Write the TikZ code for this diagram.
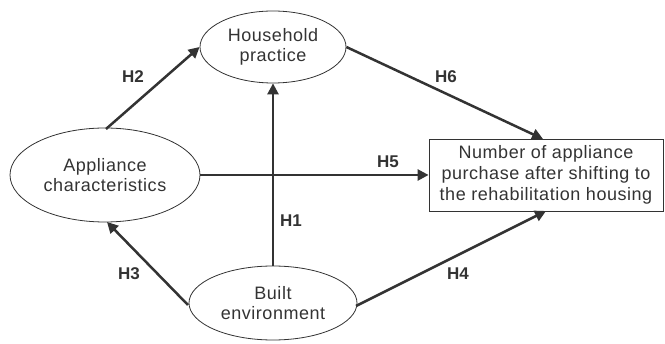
\documentclass[tikz,border=0pt]{standalone}
\usepackage{fontspec}
\setmainfont{Liberation Sans}
\newfontfamily\spacedsans[LetterSpace=3]{Liberation Sans}
\usetikzlibrary{arrows.meta,shapes.geometric}
\definecolor{ink}{HTML}{333333}
\begin{document}
\begin{tikzpicture}[x=1pt,y=-1pt,
  every node/.style={text=ink},
  ell/.style={draw=ink,line width=0.8pt,ellipse,inner sep=0pt,align=center,
    font=\spacedsans\fontsize{18}{20.5}\selectfont},
  outbox/.style={draw=ink,line width=0.8pt,rectangle,inner sep=0pt,align=center,
    font=\spacedsans\fontsize{18}{21}\selectfont},
  link/.style={draw=ink,line width=2.5pt,-{Triangle[length=11pt,width=11pt]}},
  hlab/.style={font=\bfseries\fontsize{17}{19}\selectfont}]
\useasboundingbox (0,0) rectangle (665,344);
\node[ell,minimum width=146pt,minimum height=72pt] (hp) at (273,47) {Household\\practice};
\node[ell,minimum width=190pt,minimum height=94pt] (ac) at (105,175) {Appliance\\characteristics};
\node[ell,minimum width=168pt,minimum height=74pt] (be) at (273,303) {Built\\environment};
\node[outbox,minimum width=234pt,minimum height=72pt] (np) at (546,175) {Number of appliance\\purchase after shifting to\\the rehabilitation housing};
\coordinate (h2s) at (106,129);
\coordinate (h6e) at (543,139);
\coordinate (h3s) at (188,305);
\coordinate (h3e) at (107,222);
\coordinate (h4s) at (356,306);
\coordinate (h4e) at (546,211);
\draw[link] (h2s) -- (hp.west);
\draw[link] (hp.east) -- (h6e);
\draw[link] (ac.east) -- (ac.east -| np.west);
\draw[link] (be.north) -- (hp.south);
\draw[link] (h3s) -- (h3e);
\draw[link] (h4s) -- (h4e);
\node[hlab] (lh2) at (133,77) {H2};
\node[hlab] (lh6) at (446,77) {H6};
\node[hlab] (lh5) at (388,162) {H5};
\node[hlab] (lh1) at (291,221) {H1};
\node[hlab] (lh3) at (129,274) {H3};
\node[hlab] (lh4) at (458,274) {H4};
\end{tikzpicture}
\end{document}
